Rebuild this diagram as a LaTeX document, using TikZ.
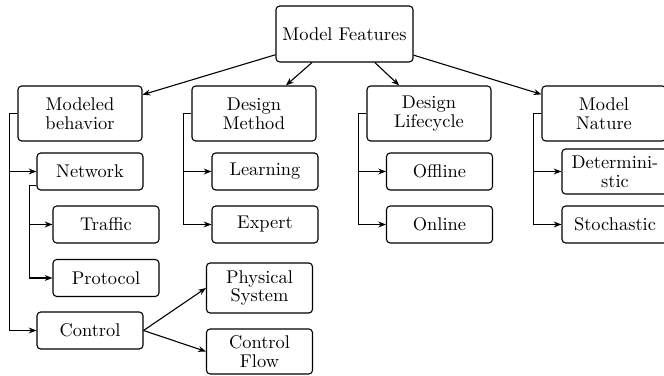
\documentclass[tikz,border=0pt]{standalone}
\usetikzlibrary{arrows.meta}
\begin{document}
\begin{tikzpicture}[x=0.5435pt,y=-0.5435pt,
  box/.style={draw, rounded corners=2pt, line width=0.6pt, inner sep=1pt, align=center,
    font=\fontsize{10pt}{10.3pt}\selectfont},
  topbox/.style={box, minimum width=74.5pt, minimum height=30.4pt},
  lonebox/.style={box, minimum width=67.4pt, minimum height=29.9pt},
  leafbox/.style={box, minimum width=57.6pt, minimum height=20.1pt},
  arr/.style={-{Stealth[length=4.2pt,width=3.2pt]}, line width=0.6pt}]
\useasboundingbox (0,0) rectangle (664,376);
\node[topbox] (mf) at (344.5,34) {Model Features};
\node[lonebox] (mb) at (80,113.5) {Modeled\\behavior};
\node[lonebox] (dm) at (254,113.5) {Design\\Method};
\node[lonebox] (dl) at (429,113.5) {Design\\Lifecycle};
\node[lonebox] (mn) at (604,113.5) {Model\\Nature};
\node[leafbox] (net) at (90,171.5) {Network};
\node[leafbox] (learn) at (265,171.5) {Learning};
\node[leafbox] (off) at (439.5,171.5) {Offline};
\node[leafbox, minimum height=24.5pt] (det) at (615,171.5) {Determini-\\stic};
\node[leafbox] (traf) at (106,224.5) {Traffic};
\node[leafbox] (expt) at (265,224.5) {Expert};
\node[leafbox] (onl) at (439.5,224.5) {Online};
\node[leafbox] (sto) at (615,224.5) {Stochastic};
\node[leafbox] (prot) at (106,278) {Protocol};
\node[leafbox] (ctrl) at (90,330.5) {Control};
\node[leafbox, minimum height=27.2pt] (phys) at (259.5,288) {Physical\\System};
\node[leafbox, minimum height=24.5pt] (cflow) at (259.5,351.5) {Control\\Flow};
\draw[arr] (mf) -- (mb);
\draw[arr] (mf) -- (dm);
\draw[arr] (mf) -- (dl);
\draw[arr] (mf) -- (mn);
\draw[arr] (mb.west) -- ++(-8,0) |- (net.west);
\draw[arr] (mb.west) -- ++(-8,0) |- (ctrl.west);
\draw[arr] ([yshift=2.7pt]net.south west) -- ++(-7,0) |- (traf.west);
\draw[arr] ([yshift=2.7pt]net.south west) -- ++(-7,0) |- (prot.west);
\draw[arr] (dm.west) -- ++(-8,0) |- (learn.west);
\draw[arr] (dm.west) -- ++(-8,0) |- (expt.west);
\draw[arr] (dl.west) -- ++(-8,0) |- (off.west);
\draw[arr] (dl.west) -- ++(-8,0) |- (onl.west);
\draw[arr] (mn.west) -- ++(-8,0) |- (det.west);
\draw[arr] (mn.west) -- ++(-8,0) |- (sto.west);
\draw[arr] (ctrl.east) -- (phys.west);
\draw[arr] (ctrl.east) -- (cflow.west);
\end{tikzpicture}
\end{document}
